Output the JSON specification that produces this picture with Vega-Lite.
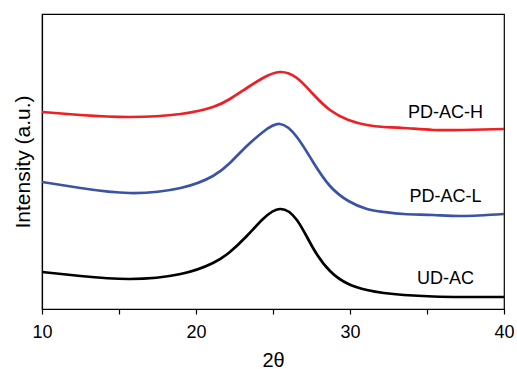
{
  "$schema": "https://vega.github.io/schema/vega-lite/v6.json",
  "width": 462,
  "height": 295,
  "autosize": "none",
  "padding": {"left": 42, "top": 14, "right": 13, "bottom": 60},
  "background": "white",
  "config": {"view": {"stroke": "black", "strokeWidth": 1.2}, "font": "Liberation Sans"},
  "datasets": {
    "curves": [
      {"sample": "PD-AC-H", "theta": 10, "intensity": 197},
      {"sample": "PD-AC-H", "theta": 12.5, "intensity": 194},
      {"sample": "PD-AC-H", "theta": 15.7, "intensity": 192},
      {"sample": "PD-AC-H", "theta": 19, "intensity": 195},
      {"sample": "PD-AC-H", "theta": 21.1, "intensity": 202},
      {"sample": "PD-AC-H", "theta": 22.2, "intensity": 210},
      {"sample": "PD-AC-H", "theta": 23.3, "intensity": 221},
      {"sample": "PD-AC-H", "theta": 24.35, "intensity": 231},
      {"sample": "PD-AC-H", "theta": 25.45, "intensity": 237},
      {"sample": "PD-AC-H", "theta": 26.55, "intensity": 231},
      {"sample": "PD-AC-H", "theta": 27.6, "intensity": 215},
      {"sample": "PD-AC-H", "theta": 28.7, "intensity": 199},
      {"sample": "PD-AC-H", "theta": 29.9, "intensity": 189},
      {"sample": "PD-AC-H", "theta": 31.1, "intensity": 184},
      {"sample": "PD-AC-H", "theta": 32.2, "intensity": 182},
      {"sample": "PD-AC-H", "theta": 33.5, "intensity": 181},
      {"sample": "PD-AC-H", "theta": 35.4, "intensity": 179},
      {"sample": "PD-AC-H", "theta": 37.3, "intensity": 179},
      {"sample": "PD-AC-H", "theta": 40, "intensity": 180},
      {"sample": "PD-AC-L", "theta": 10, "intensity": 127},
      {"sample": "PD-AC-L", "theta": 12.5, "intensity": 121},
      {"sample": "PD-AC-L", "theta": 15.7, "intensity": 116},
      {"sample": "PD-AC-L", "theta": 19, "intensity": 121},
      {"sample": "PD-AC-L", "theta": 21.1, "intensity": 133},
      {"sample": "PD-AC-L", "theta": 22.2, "intensity": 146},
      {"sample": "PD-AC-L", "theta": 23.3, "intensity": 163},
      {"sample": "PD-AC-L", "theta": 24.35, "intensity": 177},
      {"sample": "PD-AC-L", "theta": 25.45, "intensity": 185},
      {"sample": "PD-AC-L", "theta": 26.55, "intensity": 172},
      {"sample": "PD-AC-L", "theta": 27.6, "intensity": 147},
      {"sample": "PD-AC-L", "theta": 28.7, "intensity": 123},
      {"sample": "PD-AC-L", "theta": 29.9, "intensity": 108},
      {"sample": "PD-AC-L", "theta": 31.1, "intensity": 100},
      {"sample": "PD-AC-L", "theta": 32.2, "intensity": 97},
      {"sample": "PD-AC-L", "theta": 33.5, "intensity": 95},
      {"sample": "PD-AC-L", "theta": 35.4, "intensity": 94},
      {"sample": "PD-AC-L", "theta": 37.3, "intensity": 93},
      {"sample": "PD-AC-L", "theta": 40, "intensity": 95},
      {"sample": "UD-AC", "theta": 10, "intensity": 37},
      {"sample": "UD-AC", "theta": 12.5, "intensity": 33},
      {"sample": "UD-AC", "theta": 15.7, "intensity": 30},
      {"sample": "UD-AC", "theta": 19, "intensity": 35},
      {"sample": "UD-AC", "theta": 21.1, "intensity": 46},
      {"sample": "UD-AC", "theta": 22.2, "intensity": 57},
      {"sample": "UD-AC", "theta": 23.3, "intensity": 73},
      {"sample": "UD-AC", "theta": 24.35, "intensity": 90},
      {"sample": "UD-AC", "theta": 25.45, "intensity": 100},
      {"sample": "UD-AC", "theta": 26.55, "intensity": 89},
      {"sample": "UD-AC", "theta": 27.6, "intensity": 61},
      {"sample": "UD-AC", "theta": 28.7, "intensity": 38},
      {"sample": "UD-AC", "theta": 29.9, "intensity": 25},
      {"sample": "UD-AC", "theta": 31.1, "intensity": 19},
      {"sample": "UD-AC", "theta": 32.2, "intensity": 16},
      {"sample": "UD-AC", "theta": 33.5, "intensity": 14},
      {"sample": "UD-AC", "theta": 35.4, "intensity": 12.5},
      {"sample": "UD-AC", "theta": 37.3, "intensity": 12},
      {"sample": "UD-AC", "theta": 40, "intensity": 12}
    ],
    "labels": [
      {"label": "PD-AC-H", "theta": 36.2, "intensity": 196},
      {"label": "PD-AC-L", "theta": 36.2, "intensity": 112},
      {"label": "UD-AC", "theta": 36.2, "intensity": 30}
    ]
  },
  "layer": [
    {
      "data": {"name": "curves"},
      "mark": {"type": "line", "interpolate": "natural", "strokeWidth": 2.7, "clip": true},
      "encoding": {
        "x": {
          "field": "theta", "type": "quantitative",
          "scale": {"domain": [10, 40], "nice": false, "zero": false},
          "axis": {
            "title": "2θ", "values": [10, 15, 20, 25, 30, 35, 40],
            "labelExpr": "datum.value % 10 == 0 ? datum.label : ''",
            "labelFlush": false, "labelOverlap": false,
            "grid": false, "tickSize": 5, "tickWidth": 1.2, "tickColor": "black", "domainColor": "black", "domainWidth": 1.2,
            "labelFontSize": 18, "labelColor": "black", "labelPadding": 9,
            "titleFontSize": 20, "titleFontWeight": "normal", "titleColor": "black", "titlePadding": 9
          }
        },
        "y": {
          "field": "intensity", "type": "quantitative",
          "scale": {"domain": [0, 295], "nice": false},
          "axis": {
            "title": "Intensity (a.u.)", "ticks": false, "labels": false, "grid": false,
            "domainColor": "black", "domainWidth": 1.2,
            "titleFontSize": 21, "titleFontWeight": "normal", "titleColor": "black", "titlePadding": 9
          }
        },
        "color": {
          "field": "sample", "type": "nominal",
          "scale": {"domain": ["PD-AC-H", "PD-AC-L", "UD-AC"], "range": ["#ED2024", "#3A53A4", "#000000"]},
          "legend": null
        }
      }
    },
    {
      "data": {"name": "labels"},
      "mark": {"type": "text", "fontSize": 18, "align": "center", "baseline": "middle", "color": "black"},
      "encoding": {
        "x": {"field": "theta", "type": "quantitative"},
        "y": {"field": "intensity", "type": "quantitative"},
        "text": {"field": "label"}
      }
    }
  ]
}
